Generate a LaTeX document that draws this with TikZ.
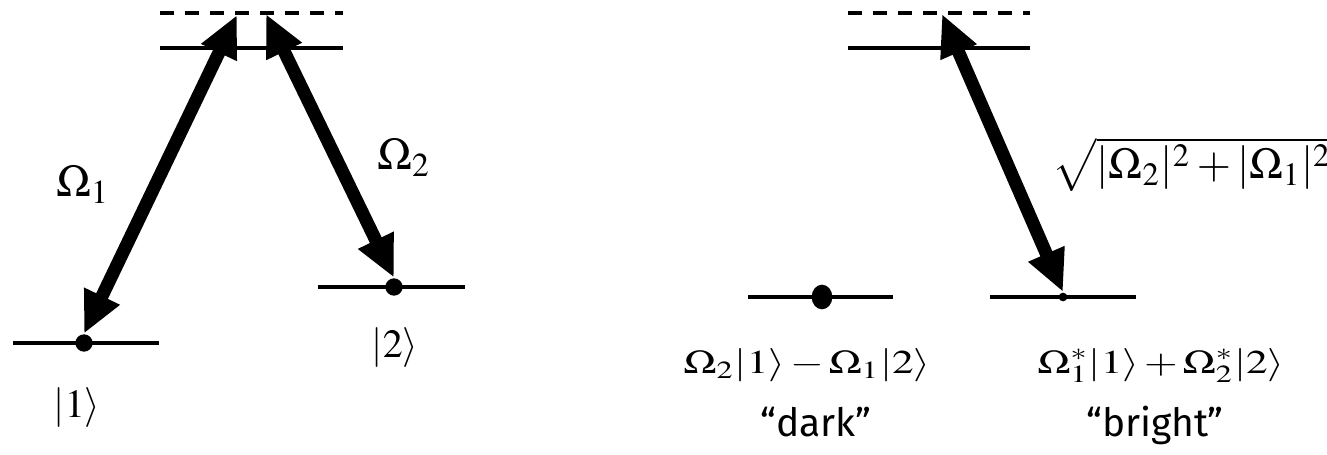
\documentclass[tikz,border=0pt]{standalone}
\usepackage{mathptmx}
\usepackage[no-math]{fontspec}
\setsansfont{Fira Sans}
\usetikzlibrary{arrows.meta,positioning,shapes.geometric}
\newcommand{\level}[3]{\draw[levelline] (#1,#3) -- (#2,#3);}
\newcommand{\virtual}[3]{\draw[virtualline] (#1,#3) -- (#2,#3);}
\tikzset{
	levelline/.style={line width=1pt},
	virtualline/.style={line width=1.1pt,dash pattern=on 4.2pt off 3.3pt},
	coupling/.style={line width=3.9pt,{Triangle[length=12.5pt,width=11pt]}-{Triangle[length=12.5pt,width=11pt]}},
	pop/.style={circle,fill,inner sep=0pt,minimum size=5.2pt},
	rabi/.style={inner sep=0pt,anchor=base,font=\fontsize{13.6}{16}\selectfont},
	ket/.style={inner sep=0pt,anchor=base,font=\fontsize{12}{14}\selectfont},
	superpos/.style={inner sep=0pt,anchor=base,xscale=1.3,font=\fontsize{10}{12}\selectfont},
	tag/.style={inner sep=0pt,anchor=base,font=\sffamily\fontsize{11.7}{14}\selectfont}
}
\begin{document}
\begin{tikzpicture}[x=0.3pt,y=-0.3pt]
	\useasboundingbox (0,0) rectangle (1327,455);
	\virtual{160}{343}{13}\level{160}{343}{48}\level{13}{159}{343}\level{318}{465}{287}
	\virtual{848}{1030}{13}\level{848}{1030}{48}\level{748}{893}{297}\level{990}{1136}{297}
	\node[pop] (s1) at (84,343) {}; \node[pop] (s2) at (394,287) {};
	\node[pop,ellipse,minimum width=6.2pt,minimum height=7.4pt] (sd) at (822,297) {};
	\node[pop,minimum size=2.6pt] (sb) at (1063,297) {};
	\coordinate (e1) at (237,15); \coordinate (e2) at (266,14); \coordinate (eb) at (942,14);
	\draw[coupling] (s1.north) -- (e1); \draw[coupling] (s2.north) -- (e2); \draw[coupling] (sb.north) -- (eb);
	\node[rabi] (w1) at (83,197) {$\Omega_1$}; \node[rabi] (w2) at (404,170) {$\Omega_2$};
	\node[ket] (k1) at (77,418) {$|1\rangle$}; \node[ket] (k2) at (395,358) {$|2\rangle$};
	\node[rabi,font=\fontsize{13.2}{15}\selectfont,anchor=base west] (wb) at (1052,179) {$\sqrt{|\Omega_2|^2+|\Omega_1|^2}$};
	\node[superpos] (dk) at (807,373) {$\medmuskip=2mu\Omega_2|1\rangle-\Omega_1|2\rangle$};
	\node[superpos] (br) at (1161,373) {$\medmuskip=2mu\Omega_1^*|1\rangle+\Omega_2^*|2\rangle$};
	\node[tag] (td) at (816,437) {“dark”}; \node[tag] (tb) at (1155,437) {“bright”};
\end{tikzpicture}
\end{document}
